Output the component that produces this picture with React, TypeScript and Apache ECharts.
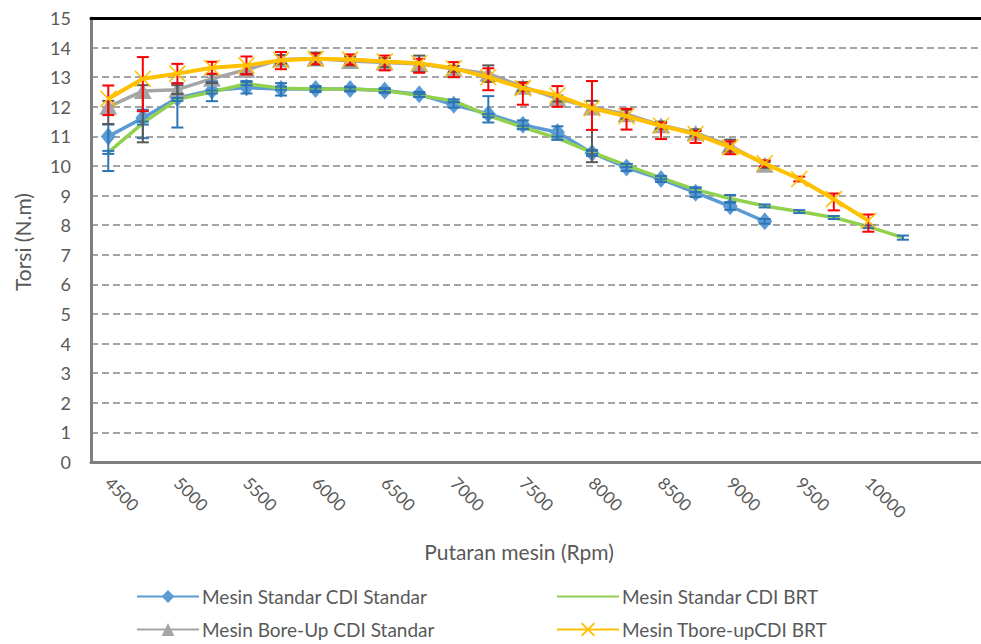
import React, { useEffect, useRef } from "react";
import * as echarts from "echarts";

const rpm = [4500, 4750, 5000, 5250, 5500, 5750, 6000, 6250, 6500, 6750, 7000, 7250, 7500, 7750, 8000, 8250, 8500, 8750, 9000, 9250, 9500, 9750, 10000, 10250];
const xTickLabels = [4500, 5000, 5500, 6000, 6500, 7000, 7500, 8000, 8500, 9000, 9500, 10000];
const yTickLabels = [0, 1, 2, 3, 4, 5, 6, 7, 8, 9, 10, 11, 12, 13, 14, 15];

const seriesNames = [
  "Mesin Standar CDI Standar",
  "Mesin Standar CDI BRT",
  "Mesin Bore-Up CDI Standar",
  "Mesin Tbore-upCDI BRT",
];

const stdStd = [11.0, 11.62, 12.3, 12.55, 12.65, 12.6, 12.6, 12.6, 12.55, 12.42, 12.07, 11.76, 11.39, 11.14, 10.44, 9.95, 9.56, 9.1, 8.64, 8.13];
const stdStdMinus = [1.17, 0.68, 1.0, 0.36, 0.2, 0.22, 0.1, 0.08, 0.08, 0.08, 0.1, 0.29, 0.15, 0.25, 0.1, 0.12, 0.1, 0.15, 0.12, 0.08];
const stdStdPlus = [0.4, 0.28, 0.5, 0.3, 0.22, 0.2, 0.1, 0.08, 0.08, 0.08, 0.1, 0.6, 0.15, 0.2, 0.1, 0.12, 0.1, 0.15, 0.12, 0.08];

const stdBrt = [10.46, 11.45, 12.25, 12.5, 12.78, 12.63, 12.6, 12.6, 12.55, 12.38, 12.2, 11.7, 11.31, 10.94, 10.46, 10.02, 9.6, 9.2, 8.9, 8.65, 8.46, 8.26, 7.95, 7.58];
const stdBrtErr = [0.05, 0.05, 0.05, 0.05, 0.05, 0.05, 0.05, 0.05, 0.05, 0.05, 0.05, 0.05, 0.05, 0.05, 0.05, 0.05, 0.05, 0.08, 0.12, 0.05, 0.05, 0.05, 0.05, 0.07];

const boreStd = [12.0, 12.53, 12.58, 12.95, 13.25, 13.6, 13.63, 13.55, 13.5, 13.45, 13.28, 13.12, 12.68, 12.28, 11.98, 11.75, 11.38, 11.12, 10.69, 10.04];
const boreStdMinus = [0.58, 1.73, 0.15, 0.15, 0.15, 0.15, 0.2, 0.15, 0.15, 0.28, 0.1, 0.28, 0.15, 0.1, 1.85, 0.15, 0.12, 0.12, 0.2, 0.1];
const boreStdPlus = [0.2, 0.2, 0.15, 0.15, 0.15, 0.15, 0.2, 0.15, 0.15, 0.28, 0.1, 0.28, 0.15, 0.1, 0.22, 0.15, 0.12, 0.12, 0.2, 0.1];

const boreBrt = [12.27, 12.95, 13.12, 13.32, 13.4, 13.57, 13.62, 13.6, 13.53, 13.47, 13.3, 13.0, 12.63, 12.38, 11.95, 11.68, 11.36, 11.08, 10.63, 10.09, 9.56, 8.88, 8.15];
const boreBrtMinus = [0.55, 1.1, 0.33, 0.2, 0.3, 0.3, 0.18, 0.17, 0.3, 0.32, 0.3, 0.44, 0.56, 0.38, 0.73, 0.45, 0.45, 0.3, 0.23, 0.1, 0.08, 0.38, 0.37];
const boreBrtPlus = [0.45, 0.73, 0.33, 0.2, 0.3, 0.28, 0.18, 0.17, 0.2, 0.15, 0.21, 0.3, 0.18, 0.32, 0.92, 0.25, 0.1, 0.1, 0.2, 0.1, 0.08, 0.19, 0.21];

const FONT = "Lato";
const TXT = "#595959";

function pts(vals: number[]) {
  return vals.map((v, i) => [rpm[i], v]);
}
function errs(vals: number[], minus: number[], plus: number[]) {
  return vals.map((v, i) => [rpm[i], v - minus[i], v + plus[i]]);
}

function errorSeries(data: number[][], color: string, z: number) {
  return {
    type: "custom",
    xAxisIndex: 0,
    yAxisIndex: 0,
    data,
    silent: true,
    z,
    renderItem: (params: any, api: any) => {
      const x = api.value(0);
      const lo = api.coord([x, api.value(1)]);
      const hi = api.coord([x, api.value(2)]);
      const w = 6;
      const style = { stroke: color, lineWidth: 2 };
      return {
        type: "group",
        children: [
          { type: "line", shape: { x1: lo[0], y1: lo[1], x2: hi[0], y2: hi[1] }, style },
          { type: "line", shape: { x1: lo[0] - w, y1: lo[1], x2: lo[0] + w, y2: lo[1] }, style },
          { type: "line", shape: { x1: hi[0] - w, y1: hi[1], x2: hi[0] + w, y2: hi[1] }, style },
        ],
      };
    },
  };
}

export default function App() {
  const ref = useRef<HTMLDivElement>(null);
  useEffect(() => {
    if (!ref.current) return;
    const chart = echarts.init(ref.current, undefined, { renderer: "svg" });
    const xMin = 4375;
    const xMax = 10815;
    const legendText = { fontSize: 19, color: TXT, fontFamily: FONT, lineHeight: 23, padding: [0, 0, 0, -2] };
    const option: any = {
      animation: false,
      backgroundColor: "#ffffff",
      textStyle: { fontFamily: FONT },
      grid: { left: 91, top: 18, height: 444, right: 0 },
      xAxis: [
        {
          type: "value",
          min: xMin,
          max: xMax,
          position: "bottom",
          axisLine: { lineStyle: { color: "#7f7f7f", width: 3 } },
          axisTick: { show: false },
          splitLine: { show: false },
          axisLabel: {
            customValues: xTickLabels,
            rotate: -45,
            margin: 18,
            fontSize: 17,
            color: TXT,
            fontFamily: FONT,
            formatter: (v: number) => String(v),
          },
        },
        {
          type: "value",
          min: xMin,
          max: xMax,
          position: "top",
          axisLine: { show: true, onZero: false, lineStyle: { color: "#000000", width: 3 } },
          axisTick: { show: false },
          axisLabel: { show: false },
          splitLine: { show: false },
        },
      ],
      yAxis: {
        type: "value",
        min: 0,
        max: 15,
        interval: 1,
        axisLine: { show: true, lineStyle: { color: "#7f7f7f", width: 3 } },
        axisTick: { show: false },
        axisLabel: {
          fontSize: 18,
          color: TXT,
          margin: 20,
          fontFamily: FONT,
          formatter: (v: number) => (yTickLabels.includes(v) ? String(v) : ""),
        },
        splitLine: { show: true, lineStyle: { color: "#868686", width: 1.5, type: [7, 4] } },
      },
      legend: [
        {
          orient: "vertical",
          left: 136,
          top: 585,
          padding: 0,
          itemWidth: 62,
          itemHeight: 16,
          itemGap: 10,
          data: [seriesNames[0], seriesNames[2]],
          textStyle: legendText,
        },
        {
          orient: "vertical",
          left: 556,
          top: 585,
          padding: 0,
          itemWidth: 62,
          itemHeight: 16,
          itemGap: 10,
          data: [seriesNames[1], seriesNames[3]],
          textStyle: legendText,
        },
      ],
      graphic: [
        {
          type: "text",
          x: 22,
          y: 242,
          rotation: Math.PI / 2,
          style: { text: "Torsi (N.m)", fill: TXT, font: `21px ${FONT}`, textAlign: "center", textVerticalAlign: "middle" },
        },
        {
          type: "text",
          x: 519,
          y: 551,
          style: { text: "Putaran mesin (Rpm)", fill: TXT, font: `21px ${FONT}`, textAlign: "center", textVerticalAlign: "middle" },
        },
      ],
      series: [
        {
          name: seriesNames[1],
          type: "line",
          data: pts(stdBrt),
          symbol: "none",
          lineStyle: { color: "#92D050", width: 3.5 },
          itemStyle: { color: "rgba(0,0,0,0)" },
          z: 3,
        },
        {
          name: seriesNames[0],
          type: "line",
          data: pts(stdStd),
          symbol: "diamond",
          symbolSize: [15, 18],
          lineStyle: { color: "#5B9BD5", width: 3.5 },
          itemStyle: { color: "#5B9BD5" },
          z: 2,
        },
        {
          name: seriesNames[2],
          type: "line",
          data: pts(boreStd),
          symbol: "triangle",
          symbolSize: [18, 16],
          lineStyle: { color: "#A5A5A5", width: 3.5 },
          itemStyle: { color: "#A5A5A5" },
          z: 3,
        },
        errorSeries(errs(stdStd, stdStdMinus, stdStdPlus), "#2E75B6", 4),
        errorSeries(errs(stdBrt, stdBrtErr, stdBrtErr), "#2E75B6", 4),
        errorSeries(errs(boreStd, boreStdMinus, boreStdPlus), "#595959", 4),
        errorSeries(errs(boreBrt, boreBrtMinus, boreBrtPlus), "#FF0000", 4),
        {
          name: seriesNames[3],
          type: "line",
          data: pts(boreBrt),
          symbol: "path://M0,0L10,10M10,0L0,10",
          symbolSize: 16,
          lineStyle: { color: "#FFC000", width: 4 },
          itemStyle: { color: "none", borderColor: "#FFC000", borderWidth: 1.5 },
          z: 5,
        },
      ],
    };
    chart.setOption(option);
    return () => chart.dispose();
  }, []);
  return <div ref={ref} style={{ width: 981, height: 644, position: "absolute", left: 0, top: 0 }} />;
}
